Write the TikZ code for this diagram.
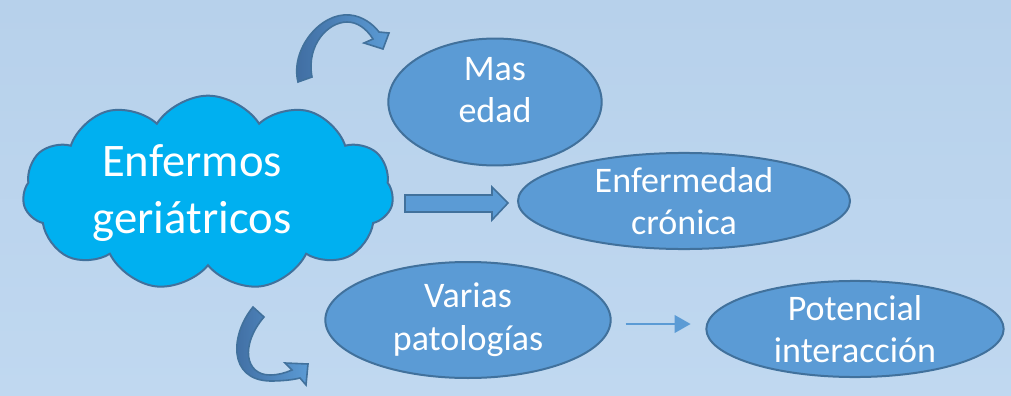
\documentclass[tikz,border=0pt]{standalone}
\usepackage{fontspec}
\setmainfont{Carlito}
\usetikzlibrary{shapes.symbols,shapes.geometric,arrows.meta}

\definecolor{bgtop}{RGB}{183,209,235}
\definecolor{bgbot}{RGB}{192,216,240}
\definecolor{cloudfill}{RGB}{0,176,240}
\definecolor{ovalfill}{RGB}{91,155,213}
\definecolor{edgeblue}{RGB}{65,113,156}
\definecolor{bendfill}{RGB}{74,126,187}

\tikzset{
  bubble/.style={cloud, cloud puffs=11, cloud puff arc=115, cloud ignores aspect,
    draw=edgeblue, line width=1.5pt, fill=cloudfill, inner sep=0pt},
  oval/.style={ellipse, draw=edgeblue, line width=1.5pt, fill=ovalfill, text=white,
    align=center, inner sep=0pt, font=\fontsize{27}{32}\selectfont},
  bent/.style={draw=edgeblue, line width=1.2pt, left color=bendfill!85!black, right color=ovalfill},
  fatarrow/.style={draw=edgeblue, line width=1.2pt, fill=ovalfill},
  thinarrow/.style={draw=ovalfill, line width=2pt, -{Triangle[length=12pt,width=13pt]}}
}

\begin{document}
\begin{tikzpicture}[x=0.75pt,y=-0.75pt]
\shade[top color=bgtop, bottom color=bgbot] (0,0) rectangle (1011,396);
\useasboundingbox (0,0) rectangle (1011,396);

% nodes
\node[bubble, minimum width=278pt, minimum height=146pt,
  label={[text=white, align=center, xshift=-12pt, font=\fontsize{35}{43}\selectfont]center:Enfermos\\geriátricos}]
  (enfermos) at (208,193) {};
\node[oval, minimum width=160pt, minimum height=93pt] (edad) at (495,102) {Mas\\edad\\[-14pt]};
\node[oval, minimum width=249pt, minimum height=62pt] (cronica) at (684,201) {Enfermedad\\crónica};
\node[oval, minimum width=214pt, minimum height=87pt] (varias) at (468,320) {Varias\\patologías};
\node[oval, minimum width=223pt, minimum height=69pt] (potencial) at (855,329) {Potencial\\interacción};

% curved arrows
\path[bent] (298,82) .. controls (290,50) and (320,12) .. (350,15)
  .. controls (362,16) and (373,24) .. (379,32) -- (389,33) -- (383,49) -- (364,43) -- (373,39)
  .. controls (366,28) and (357,22) .. (347,22)
  .. controls (328,22) and (306,45) .. (312,77) -- cycle;
\path[bent] (253,307) .. controls (230,335) and (228,380) .. (270,381)
  .. controls (282,381) and (292,380) .. (300,378) -- (306,385) -- (308,364) -- (285,363) -- (292,370)
  .. controls (285,373) and (278,375) .. (270,375)
  .. controls (245,375) and (240,345) .. (264,317) -- cycle;

% block arrow
\path[fatarrow] (405,195) -- (492,195) -- (492,187) -- (508,203) -- (492,220) -- (492,212) -- (405,212) -- cycle;

% thin arrow
\draw[thinarrow] ([xshift=10.5pt,yshift=-3pt]varias.east) -- ([xshift=-11pt,yshift=-3pt]varias.east -| potencial.west);
\end{tikzpicture}
\end{document}
